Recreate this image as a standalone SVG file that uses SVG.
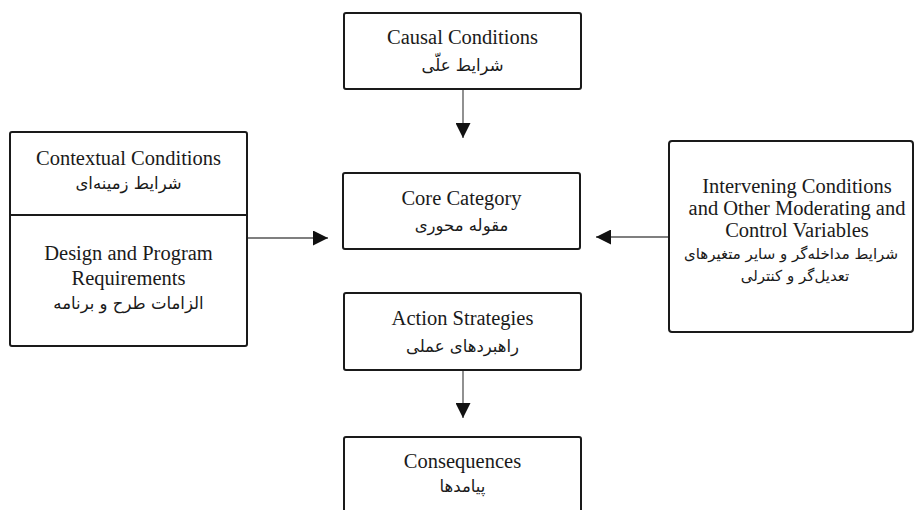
<svg xmlns="http://www.w3.org/2000/svg" width="917" height="510" viewBox="0 0 917 510">
<defs>
<style>
.box{fill:#fff;stroke:#1a1a1a;stroke-width:2}
.en{font-family:"Liberation Serif","Times New Roman",serif;font-size:20.5px;fill:#1a1a1a;text-anchor:middle}
.fa{font-family:"DejaVu Sans","Liberation Serif",sans-serif;font-size:16.5px;fill:#1a1a1a;text-anchor:middle}
.fa2{font-size:15px}
.conn{stroke:#555;stroke-width:1.3;fill:none}
</style>
<marker id="ah" viewBox="0 0 10 10" refX="10" refY="5" markerWidth="15" markerHeight="15" markerUnits="userSpaceOnUse" orient="auto">
<path d="M0,0 L10,5 L0,10 Z" fill="#111"/>
</marker>
</defs>
<rect width="917" height="510" fill="#fff"/>
<g id="connectors">
<line class="conn" x1="463" y1="89" x2="463" y2="138" marker-end="url(#ah)"/>
<line class="conn" x1="247" y1="238" x2="328" y2="238" marker-end="url(#ah)"/>
<line class="conn" x1="669" y1="237" x2="596" y2="237" marker-end="url(#ah)"/>
<line class="conn" x1="463" y1="370" x2="463" y2="418" marker-end="url(#ah)"/>
</g>
<g id="causal">
<rect class="box" x="344" y="13" width="237" height="76" rx="2"/>
<text class="en" x="462.5" y="44">Causal Conditions</text>
<text class="fa" x="462.5" y="71">شرایط علّی</text>
</g>
<g id="core">
<rect class="box" x="343" y="173" width="237" height="76" rx="2"/>
<text class="en" x="461.5" y="205">Core Category</text>
<text class="fa" x="461.5" y="231">مقوله محوری</text>
</g>
<g id="contextual">
<rect class="box" x="10" y="132" width="237" height="214" rx="2"/>
<line x1="10" y1="215" x2="247" y2="215" stroke="#1a1a1a" stroke-width="2"/>
<text class="en" x="128.5" y="165">Contextual Conditions</text>
<text class="fa" x="128.5" y="189">شرایط زمینه‌ای</text>
<text class="en" x="128.5" y="260">Design and Program</text>
<text class="en" x="128.5" y="285">Requirements</text>
<text class="fa" x="128.5" y="309">الزامات طرح و برنامه</text>
</g>
<g id="intervening">
<rect class="box" x="669" y="141" width="244" height="191" rx="3"/>
<text class="en" x="797" y="193">Intervening Conditions</text>
<text class="en" x="797" y="215">and Other Moderating and</text>
<text class="en" x="797" y="237">Control Variables</text>
<text class="fa fa2" x="791" y="259">شرایط مداخله‌گر و سایر متغیرهای</text>
<text class="fa fa2" x="795" y="281">تعدیل‌گر و کنترلی</text>
</g>
<g id="action">
<rect class="box" x="344" y="293" width="237" height="77" rx="2"/>
<text class="en" x="462.5" y="325">Action Strategies</text>
<text class="fa" x="462.5" y="352">راهبردهای عملی</text>
</g>
<g id="consequences">
<rect class="box" x="344" y="437" width="237" height="90" rx="2"/>
<text class="en" x="462.5" y="468">Consequences</text>
<text class="fa" x="462.5" y="492">پیامدها</text>
</g>
</svg>
